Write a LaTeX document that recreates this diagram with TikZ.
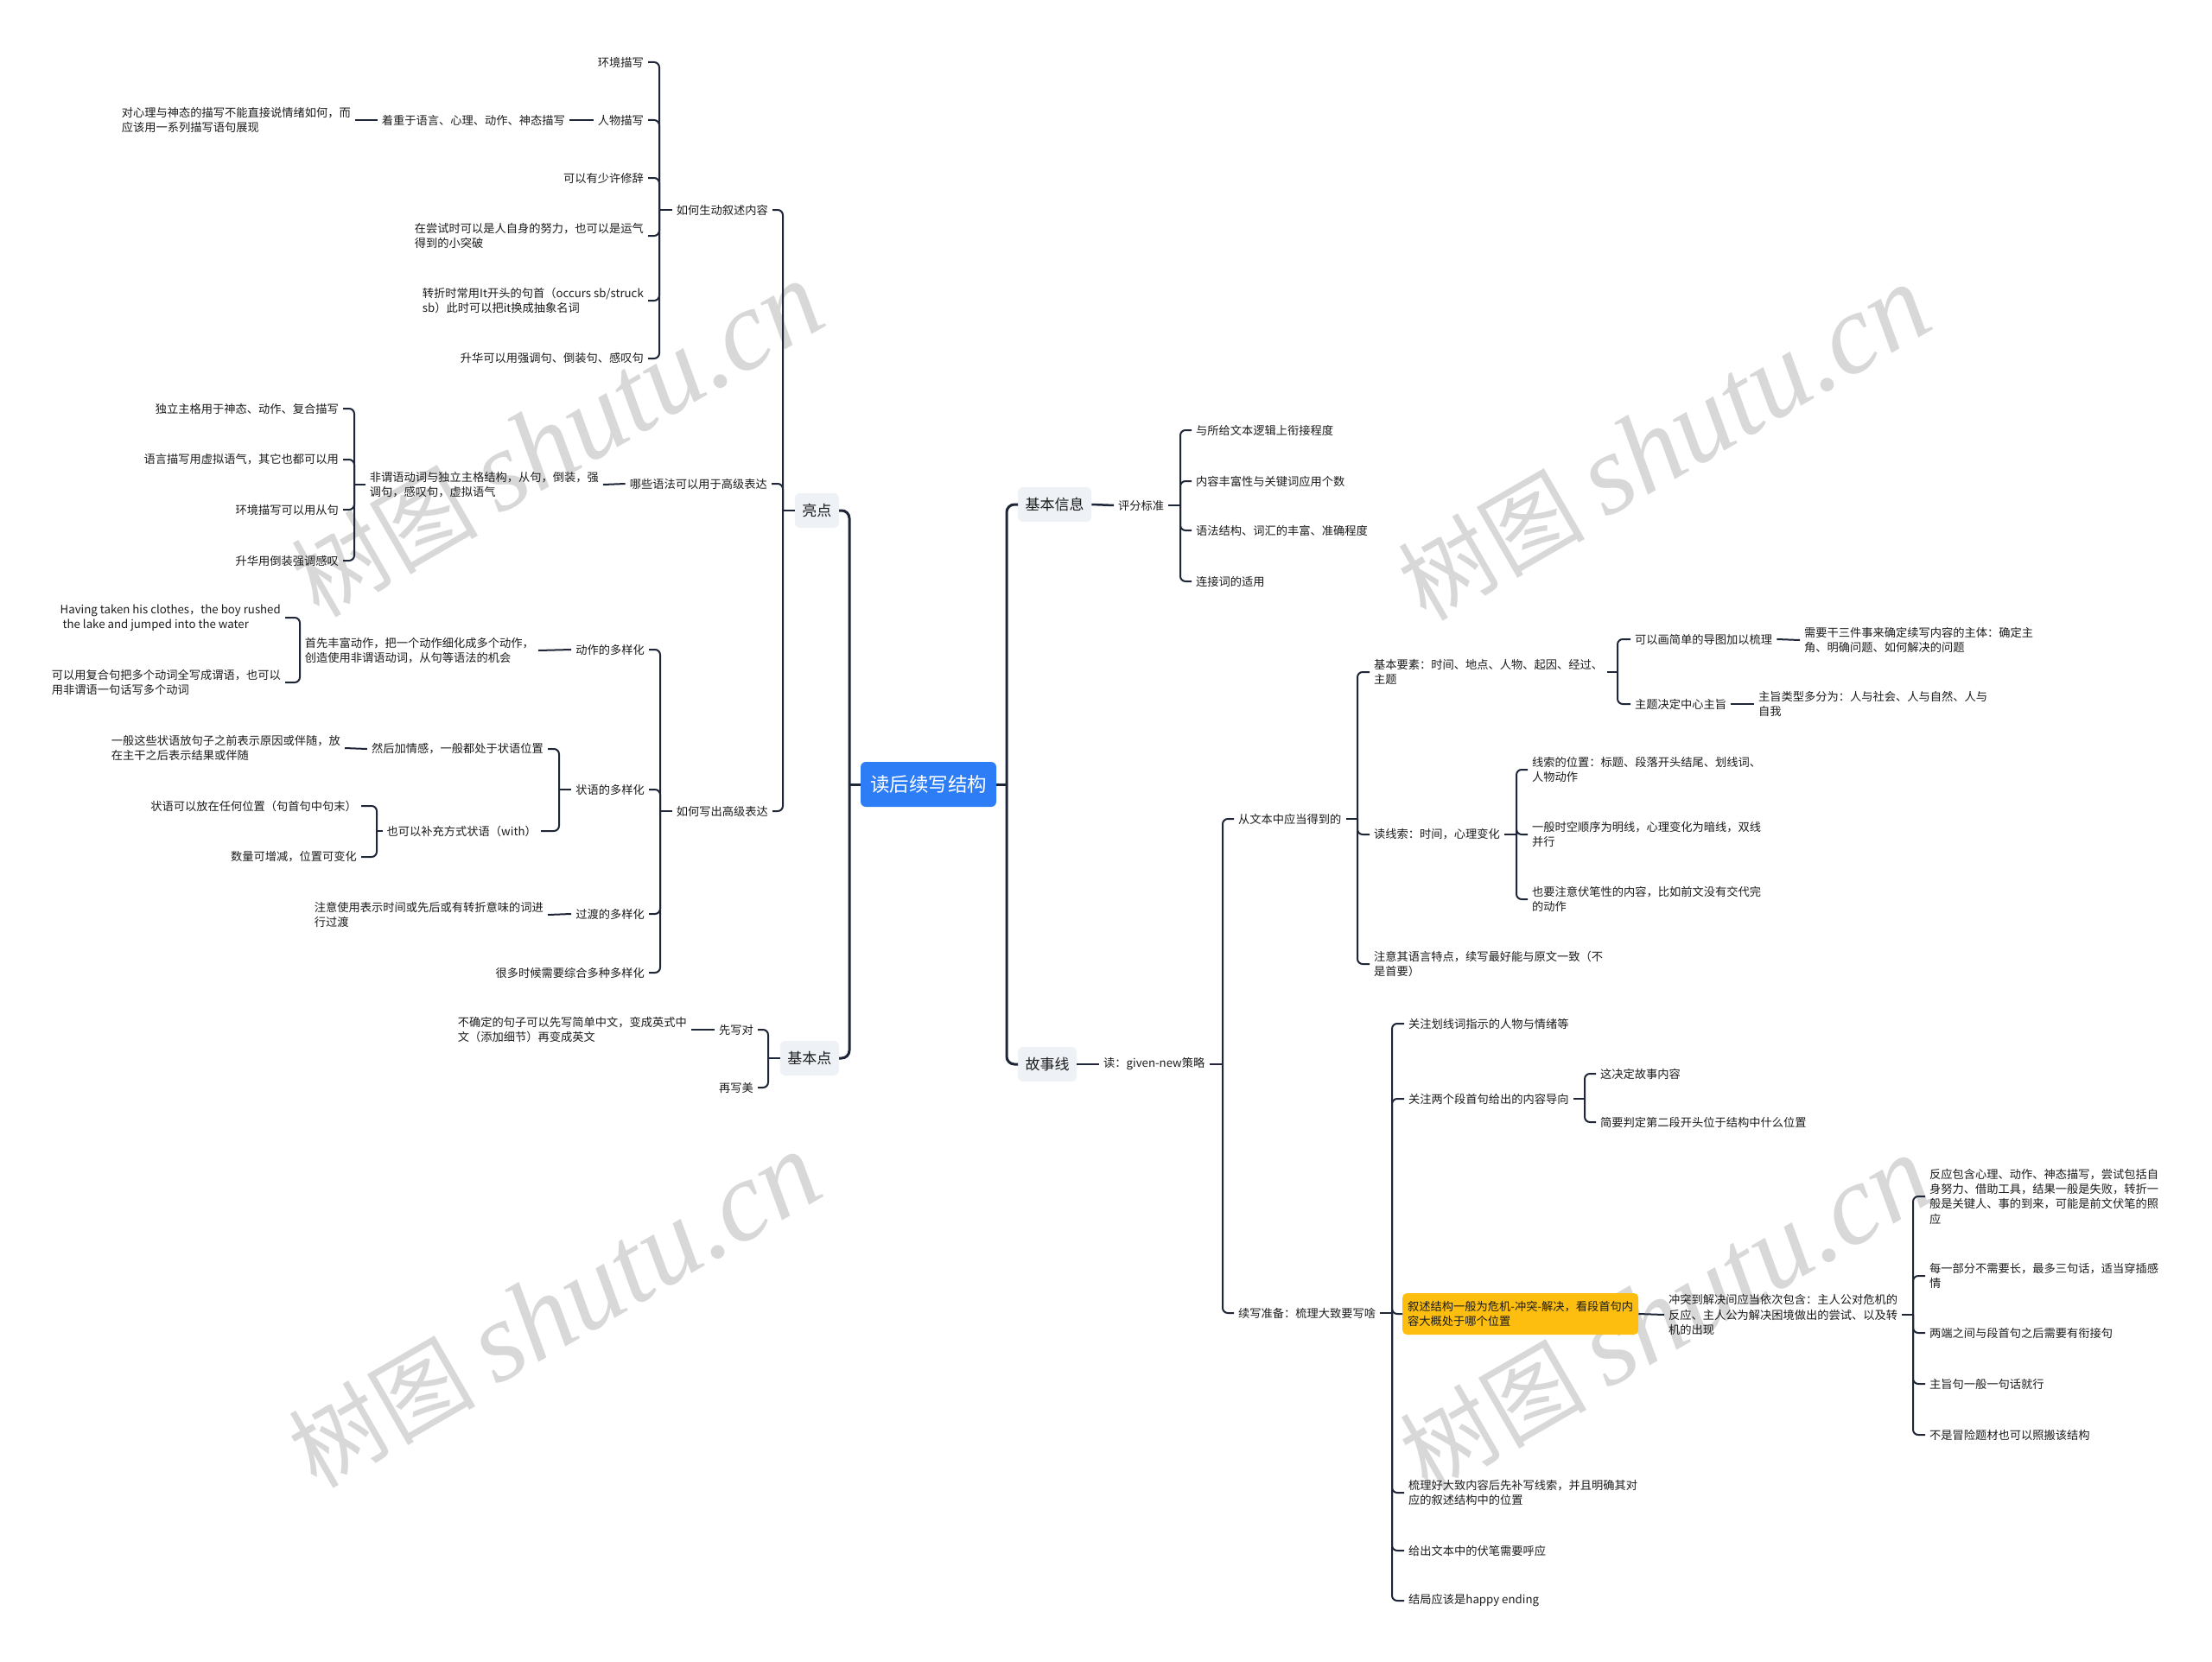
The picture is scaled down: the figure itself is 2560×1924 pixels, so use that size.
\documentclass[tikz,border=0pt]{standalone}
\usepackage{fontspec}
\setmainfont{Noto Sans CJK SC}
\newfontfamily\wmfont{Liberation Serif}
\definecolor{ln}{RGB}{30,38,56}
\definecolor{txt}{RGB}{28,28,28}
\definecolor{lvbg}{RGB}{238,241,245}
\definecolor{rootblue}{RGB}{45,125,246}
\definecolor{orng}{RGB}{253,190,16}
\definecolor{wm}{RGB}{216,216,216}
\tikzset{
  tx/.style={font=\fontsize{13.25}{17.3}\selectfont, text=txt, inner xsep=5pt, inner ysep=1pt, align=left},
  lv/.style={font=\fontsize{17}{20}\selectfont, fill=lvbg, rounded corners=6pt, inner xsep=8.5pt, minimum height=40pt, text=txt},
  rootn/.style={font=\fontsize{22.5}{26}\selectfont, fill=rootblue, text=white, rounded corners=6pt, inner xsep=11pt, minimum height=52pt},
  hlbox/.style={tx, fill=orng, rounded corners=5pt, inner xsep=6pt, minimum height=48pt},
  lnA/.style={draw=ln, line width=3pt, rounded corners=9pt},
  lnB/.style={draw=ln, line width=2.5pt, rounded corners=7pt},
  lnC/.style={draw=ln, line width=2pt, rounded corners=6pt},
  wmark/.style={rotate=30, text=wm, inner sep=0pt}
}
\begin{document}
\begin{tikzpicture}[x=1pt,y=-1pt]
\fill[white] (0,0) rectangle (2560,1924);
\useasboundingbox (0,0) rectangle (2560,1924);

% watermarks
\foreach \cx/\cy [count=\i] in {645/510, 1926/514, 642/1518, 1928/1522}{
  \node[wmark] (wm\i) at (\cx,\cy) {\fontsize{108}{110}\selectfont 树图 {\wmfont\itshape\fontsize{132}{132}\selectfont shutu.cn}};
}

% root and level 1
\node[rootn] (root) at (1074.5,908) {读后续写结构};
\node[lv, anchor=east] (ld) at (971,591) {亮点};
\node[lv, anchor=east] (jbd) at (971,1225) {基本点};
\node[lv, anchor=west] (jbxx) at (1178,584) {基本信息};
\node[lv, anchor=west] (gsx) at (1178,1232) {故事线};

% ---------- left: 亮点 ----------
\node[tx, anchor=east] (a1) at (894,243) {如何生动叙述内容};
\node[tx, anchor=east] (a2) at (893,560) {哪些语法可以用于高级表达};
\node[tx, anchor=east] (a3) at (894,939) {如何写出高级表达};

\node[tx, anchor=east] (a11) at (750,72) {环境描写};
\node[tx, anchor=east] (a12) at (750,139) {人物描写};
\node[tx, anchor=east] (a121) at (659,139) {着重于语言、心理、动作、神态描写};
\node[tx, anchor=east] (a1211) at (411,139) {对心理与神态的描写不能直接说情绪如何，而\\应该用一系列描写语句展现};
\node[tx, anchor=east] (a13) at (750,206) {可以有少许修辞};
\node[tx, anchor=east] (a14) at (750,273) {在尝试时可以是人自身的努力，也可以是运气\\得到的小突破};
\node[tx, anchor=east] (a15) at (750,348) {转折时常用It开头的句首（occurs sb/struck\\sb）此时可以把it换成抽象名词};
\node[tx, anchor=east] (a16) at (750,415) {升华可以用强调句、倒装句、感叹句};

\node[tx, anchor=east] (a21) at (698,561) {非谓语动词与独立主格结构，从句，倒装，强\\调句，感叹句，虚拟语气};
\node[tx, anchor=east] (a211) at (397,473) {独立主格用于神态、动作、复合描写};
\node[tx, anchor=east] (a212) at (397,532) {语言描写用虚拟语气，其它也都可以用};
\node[tx, anchor=east] (a213) at (397,590) {环境描写可以用从句};
\node[tx, anchor=east] (a214) at (397,649) {升华用倒装强调感叹};

\node[tx, anchor=east] (a31) at (751,752) {动作的多样化};
\node[tx, anchor=east] (a311) at (623,753) {首先丰富动作，把一个动作细化成多个动作，\\创造使用非谓语动词，从句等语法的机会};
\node[tx, anchor=east] (a3111) at (330,715) {Having taken his clothes，the boy rushed\\\ the lake and jumped into the water};
\node[tx, anchor=east] (a3112) at (330,790) {可以用复合句把多个动词全写成谓语，也可以\\用非谓语一句话写多个动词};
\node[tx, anchor=east] (a32) at (751,914) {状语的多样化};
\node[tx, anchor=east] (a321) at (634,867) {然后加情感，一般都处于状语位置};
\node[tx, anchor=east] (a3211) at (399,866) {一般这些状语放句子之前表示原因或伴随，放\\在主干之后表示结果或伴随};
\node[tx, anchor=east] (a322) at (626,962) {也可以补充方式状语（with）};
\node[tx, anchor=east] (a3221) at (418,933) {状语可以放在任何位置（句首句中句末）};
\node[tx, anchor=east] (a3222) at (418,992) {数量可增减，位置可变化};
\node[tx, anchor=east] (a33) at (751,1058) {过渡的多样化};
\node[tx, anchor=east] (a331) at (634,1059) {注意使用表示时间或先后或有转折意味的词进\\行过渡};
\node[tx, anchor=east] (a34) at (751,1126) {很多时候需要综合多种多样化};

% ---------- left: 基本点 ----------
\node[tx, anchor=east] (b1) at (877,1192) {先写对};
\node[tx, anchor=east] (b11) at (800,1192) {不确定的句子可以先写简单中文，变成英式中\\文（添加细节）再变成英文};
\node[tx, anchor=east] (b2) at (877,1259) {再写美};

% ---------- right: 基本信息 ----------
\node[tx, anchor=west] (c1) at (1289,585) {评分标准};
\node[tx, anchor=west] (c11) at (1379,498) {与所给文本逻辑上衔接程度};
\node[tx, anchor=west] (c12) at (1379,557) {内容丰富性与关键词应用个数};
\node[tx, anchor=west] (c13) at (1379,614) {语法结构、词汇的丰富、准确程度};
\node[tx, anchor=west] (c14) at (1379,673) {连接词的适用};

% ---------- right: 故事线 ----------
\node[tx, anchor=west] (d1) at (1272,1232) {读：given-new策略};
\node[tx, anchor=west] (d11) at (1428,948) {从文本中应当得到的};
\node[tx, anchor=west] (d111) at (1585,778) {基本要素：时间、地点、人物、起因、经过、\\主题};
\node[tx, anchor=west] (d1111) at (1887,740) {可以画简单的导图加以梳理};
\node[tx, anchor=west] (d11111) at (2083,741) {需要干三件事来确定续写内容的主体：确定主\\角、明确问题、如何解决的问题};
\node[tx, anchor=west] (d1112) at (1887,815) {主题决定中心主旨};
\node[tx, anchor=west] (d11121) at (2030,815) {主旨类型多分为：人与社会、人与自然、人与\\自我};
\node[tx, anchor=west] (d112) at (1585,966) {读线索：时间，心理变化};
\node[tx, anchor=west] (d1121) at (1768,891) {线索的位置：标题、段落开头结尾、划线词、\\人物动作};
\node[tx, anchor=west] (d1122) at (1768,966) {一般时空顺序为明线，心理变化为暗线，双线\\并行};
\node[tx, anchor=west] (d1123) at (1768,1041) {也要注意伏笔性的内容，比如前文没有交代完\\的动作};
\node[tx, anchor=west] (d113) at (1585,1116) {注意其语言特点，续写最好能与原文一致（不\\是首要）};
\node[tx, anchor=west] (d12) at (1428,1520) {续写准备：梳理大致要写啥};
\node[tx, anchor=west] (d121) at (1625,1185) {关注划线词指示的人物与情绪等};
\node[tx, anchor=west] (d122) at (1625,1272) {关注两个段首句给出的内容导向};
\node[tx, anchor=west] (d1221) at (1847,1243) {这决定故事内容};
\node[tx, anchor=west] (d1222) at (1847,1299) {简要判定第二段开头位于结构中什么位置};
\node[hlbox, anchor=west] (d123) at (1623,1521) {叙述结构一般为危机-冲突-解决，看段首句内\\容大概处于哪个位置};
\node[tx, anchor=west] (d1231) at (1926,1522) {冲突到解决间应当依次包含：主人公对危机的\\反应、主人公为解决困境做出的尝试、以及转\\机的出现};
\node[tx, anchor=west] (d12311) at (2228,1385) {反应包含心理、动作、神态描写，尝试包括自\\身努力、借助工具，结果一般是失败，转折一\\般是关键人、事的到来，可能是前文伏笔的照\\应};
\node[tx, anchor=west] (d12312) at (2228,1477) {每一部分不需要长，最多三句话，适当穿插感\\情};
\node[tx, anchor=west] (d12313) at (2228,1543) {两端之间与段首句之后需要有衔接句};
\node[tx, anchor=west] (d12314) at (2228,1602) {主旨句一般一句话就行};
\node[tx, anchor=west] (d12315) at (2228,1661) {不是冒险题材也可以照搬该结构};
\node[tx, anchor=west] (d124) at (1625,1728) {梳理好大致内容后先补写线索，并且明确其对\\应的叙述结构中的位置};
\node[tx, anchor=west] (d125) at (1625,1795) {给出文本中的伏笔需要呼应};
\node[tx, anchor=west] (d126) at (1625,1853) {结局应该是happy ending};

% ---------- junctions ----------
\coordinate (jrL) at (983,908);
\coordinate (jrR) at (1165,908);
\coordinate (jld) at (906,591);
\coordinate (jjbd) at (889,1225);
\coordinate (ja1) at (763,243);
\coordinate (ja21) at (410,561);
\coordinate (ja3) at (764,939);
\coordinate (ja311) at (347,753);
\coordinate (ja32) at (647,914);
\coordinate (ja322) at (436,962);
\coordinate (jc1) at (1366,585);
\coordinate (jd1) at (1415,1232);
\coordinate (jd11) at (1571,948);
\coordinate (jd111) at (1872,778);
\coordinate (jd112) at (1755,966);
\coordinate (jd12) at (1611,1520);
\coordinate (jd122) at (1834,1272);
\coordinate (jd1231) at (2214,1522);

% ---------- connectors ----------
\draw[lnA] (root.west) -- (jrL);
\draw[lnA] (jrL) |- (ld.east);
\draw[lnA] (jrL) |- (jbd.east);
\draw[lnA] (root.east) -- (jrR);
\draw[lnA] (jrR) |- (jbxx.west);
\draw[lnA] (jrR) |- (gsx.west);

\draw[lnB] (ld.west) -- (jld);
\foreach \c in {a1,a2,a3} \draw[lnC] (jld) |- (\c.east);
\draw[lnB] (jbd.west) -- (jjbd);
\foreach \c in {b1,b2} \draw[lnC] (jjbd) |- (\c.east);
\draw[lnB] (jbxx.east) -- (c1.west);
\draw[lnB] (gsx.east) -- (d1.west);

\draw[lnC] (a1.west) -- (ja1);
\foreach \c in {a11,a12,a13,a14,a15,a16} \draw[lnC] (ja1) |- (\c.east);
\draw[lnC] (a12.west) -- (a121.east);
\draw[lnC] (a121.west) -- (a1211.east);
\draw[lnC] (a2.west) -- (a21.east);
\draw[lnC] (a21.west) -- (ja21);
\foreach \c in {a211,a212,a213,a214} \draw[lnC] (ja21) |- (\c.east);
\draw[lnC] (a3.west) -- (ja3);
\foreach \c in {a31,a32,a33,a34} \draw[lnC] (ja3) |- (\c.east);
\draw[lnC] (a31.west) -- (a311.east);
\draw[lnC] (a311.west) -- (ja311);
\foreach \c in {a3111,a3112} \draw[lnC] (ja311) |- (\c.east);
\draw[lnC] (a32.west) -- (ja32);
\foreach \c in {a321,a322} \draw[lnC] (ja32) |- (\c.east);
\draw[lnC] (a321.west) -- (a3211.east);
\draw[lnC] (a322.west) -- (ja322);
\foreach \c in {a3221,a3222} \draw[lnC] (ja322) |- (\c.east);
\draw[lnC] (a33.west) -- (a331.east);
\draw[lnC] (b1.west) -- (b11.east);

\draw[lnC] (c1.east) -- (jc1);
\foreach \c in {c11,c12,c13,c14} \draw[lnC] (jc1) |- (\c.west);
\draw[lnC] (d1.east) -- (jd1);
\foreach \c in {d11,d12} \draw[lnC] (jd1) |- (\c.west);
\draw[lnC] (d11.east) -- (jd11);
\foreach \c in {d111,d112,d113} \draw[lnC] (jd11) |- (\c.west);
\draw[lnC] (d111.east) -- (jd111);
\foreach \c in {d1111,d1112} \draw[lnC] (jd111) |- (\c.west);
\draw[lnC] (d1111.east) -- (d11111.west);
\draw[lnC] (d1112.east) -- (d11121.west);
\draw[lnC] (d112.east) -- (jd112);
\foreach \c in {d1121,d1122,d1123} \draw[lnC] (jd112) |- (\c.west);
\draw[lnC] (d12.east) -- (jd12);
\foreach \c in {d121,d122,d123,d124,d125,d126} \draw[lnC] (jd12) |- (\c.west);
\draw[lnC] (d122.east) -- (jd122);
\foreach \c in {d1221,d1222} \draw[lnC] (jd122) |- (\c.west);
\draw[lnC] (d123.east) -- (d1231.west);
\draw[lnC] (d1231.east) -- (jd1231);
\foreach \c in {d12311,d12312,d12313,d12314,d12315} \draw[lnC] (jd1231) |- (\c.west);
\end{tikzpicture}
\end{document}
